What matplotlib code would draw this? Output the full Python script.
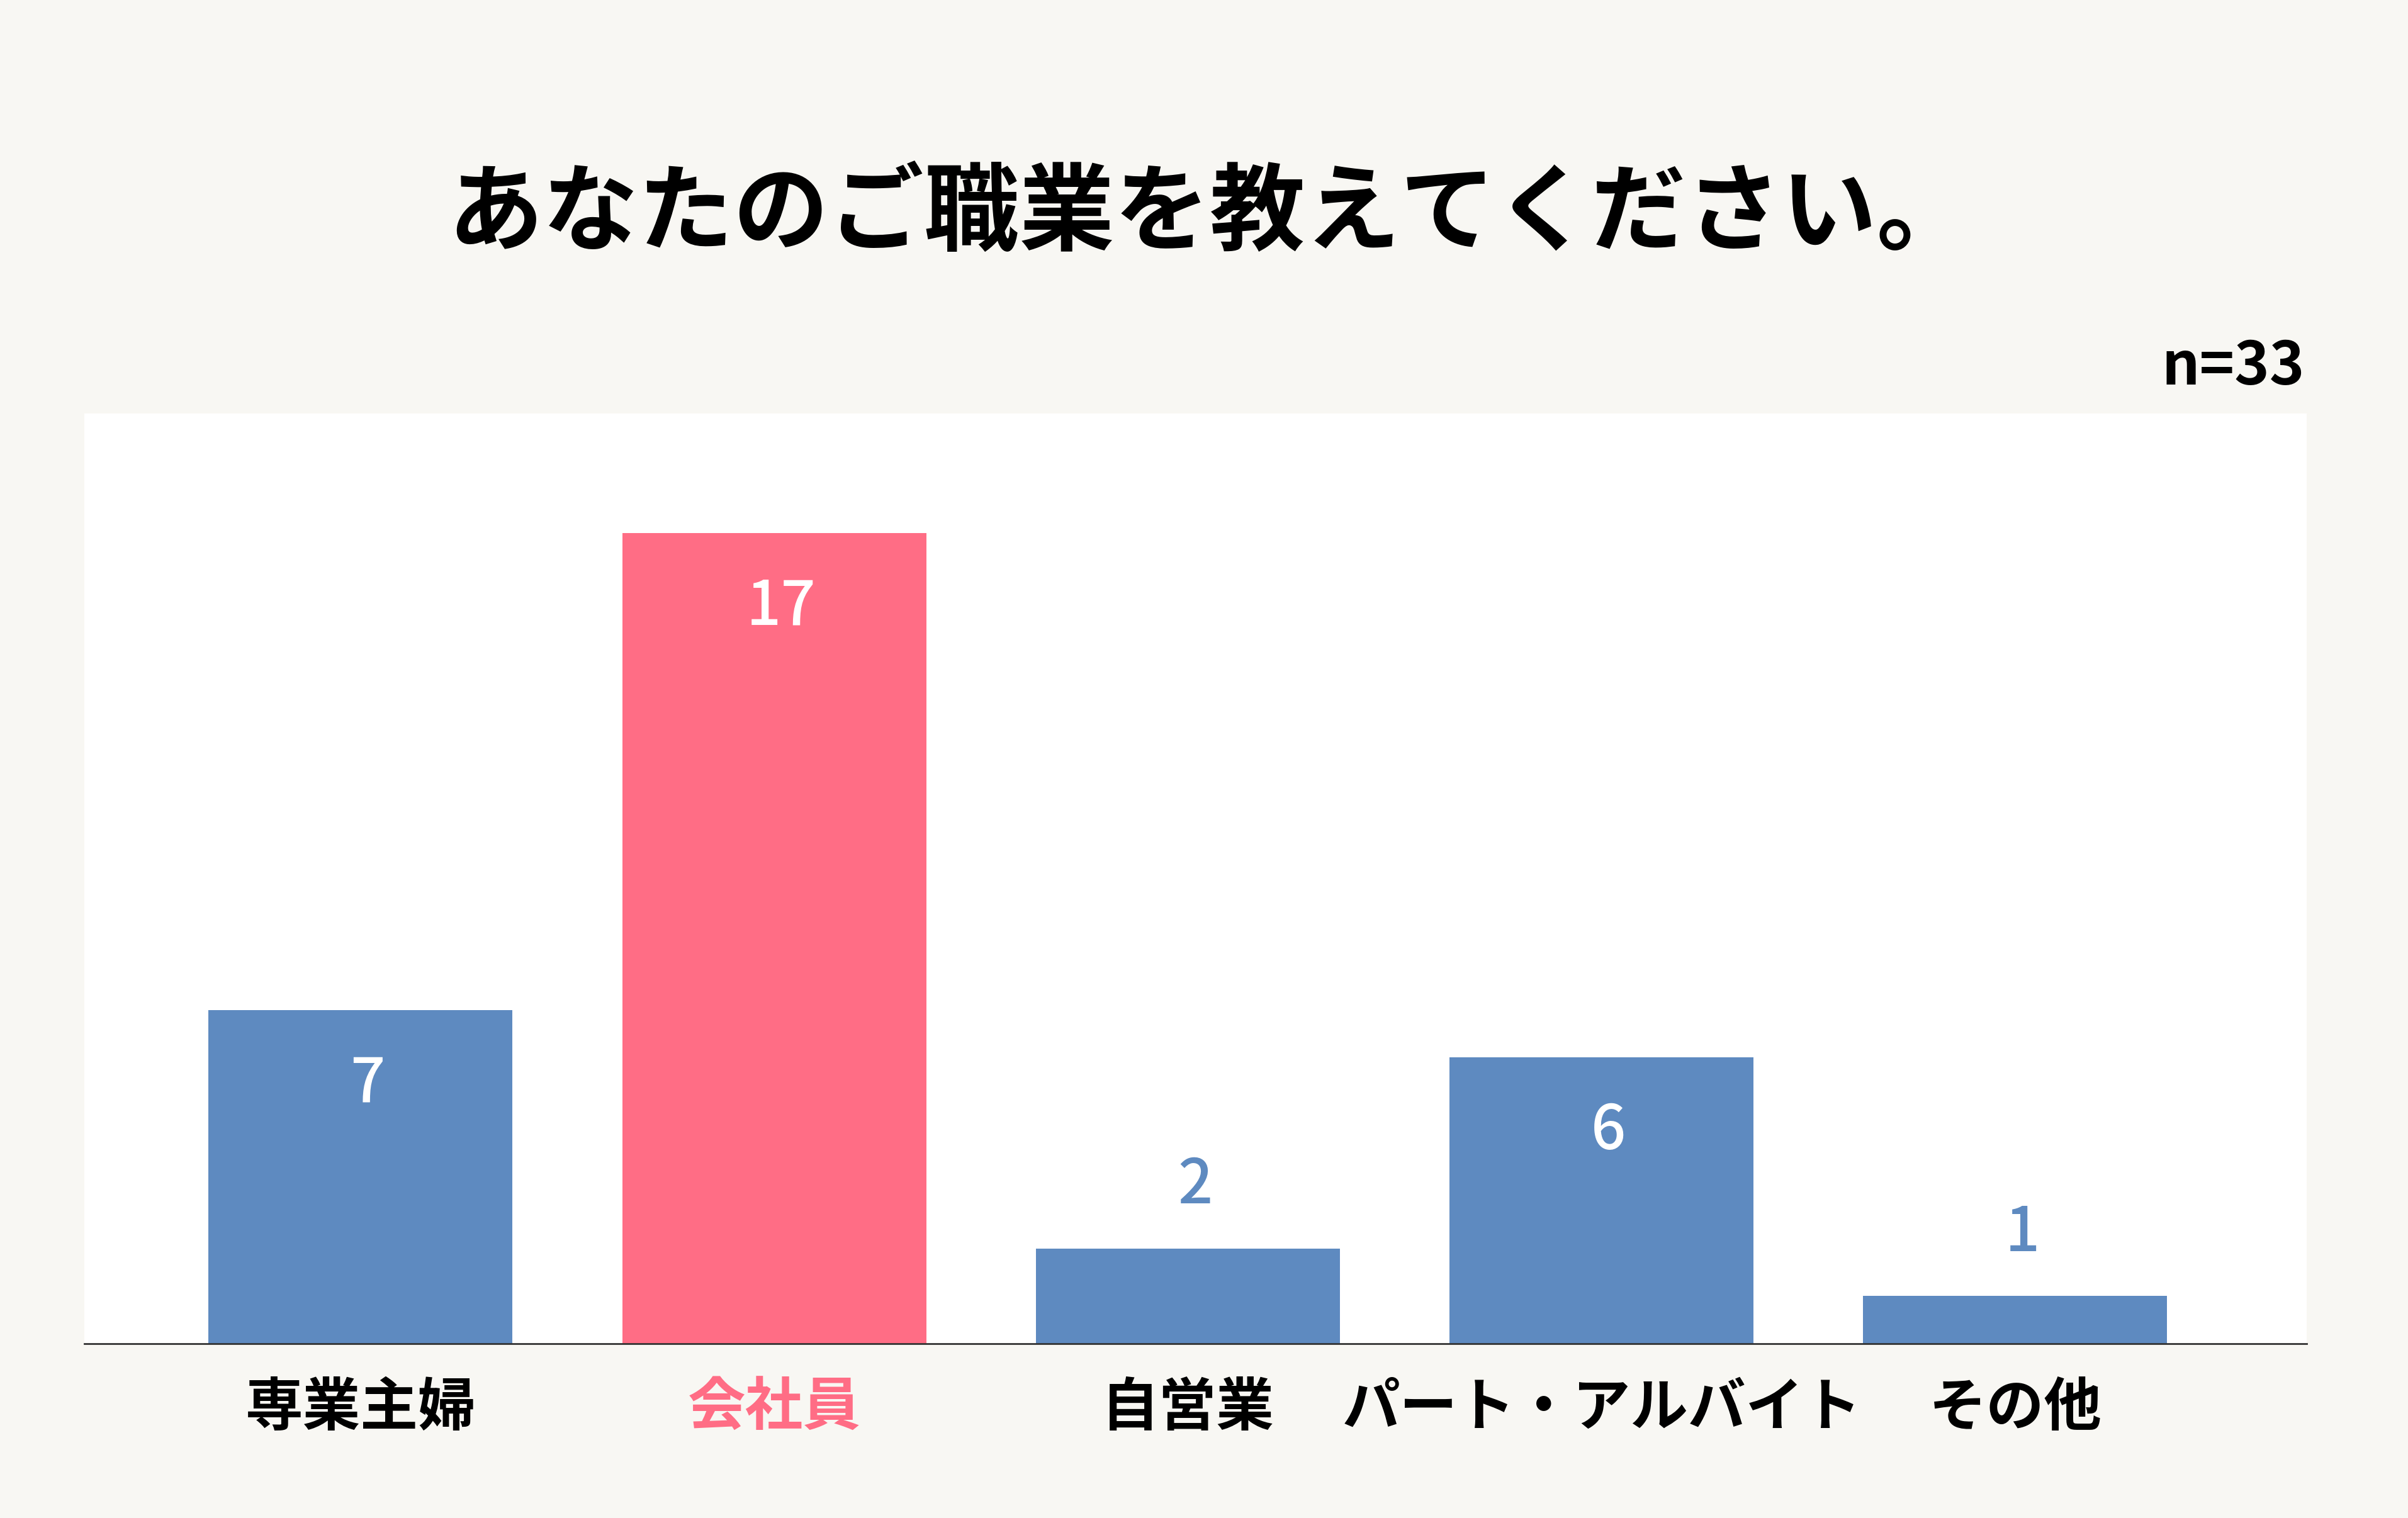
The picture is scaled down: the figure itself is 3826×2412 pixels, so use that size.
import matplotlib.pyplot as plt

plt.rcParams["font.family"] = ["Noto Sans CJK JP", "DejaVu Sans"]

# データ
categories = ["専業主婦", "会社員", "自営業", "パート・アルバイト", "その他"]
counts = [7, 17, 2, 6, 1]
highlight = "会社員"
n_total = 33

BG = "#F8F7F3"
BLUE = "#5E8AC0"
PINK = "#FF6D85"

fig = plt.figure(figsize=(38.26, 24.12), dpi=100, facecolor=BG)
ax = fig.add_axes([0.035, 0.1148, 0.923, 0.6128])
ax.set_facecolor("white")

colors = [PINK if c == highlight else BLUE for c in categories]
x = list(range(len(categories)))
ax.bar(x, counts, width=0.735, color=colors, zorder=2)

ax.set_xlim(-0.668, len(categories) - 1 + 0.705)
ax.set_ylim(0, 19.5)

# 値ラベル: 大きい棒は内側に白、小さい棒は上に青
for xi, v, col in zip(x, counts, colors):
    if v >= 5:
        ax.annotate(str(v), (xi, v), xytext=(8, -85), textcoords="offset points",
                    ha="center", va="center", color="white", fontsize=70, fontweight="medium")
    else:
        ax.annotate(str(v), (xi, v), xytext=(8, 71), textcoords="offset points",
                    ha="center", va="center", color=col, fontsize=70, fontweight="medium")

ax.set_xticks(x)
ax.set_xticklabels(categories, fontsize=66, fontweight="bold")
for lbl, c in zip(ax.get_xticklabels(), categories):
    lbl.set_color(PINK if c == highlight else "black")
ax.tick_params(axis="x", length=0, pad=40)
ax.set_yticks([])

for side in ["top", "left", "right"]:
    ax.spines[side].set_visible(False)
ax.spines["bottom"].set_color("#333333")
ax.spines["bottom"].set_linewidth(2)

fig.text(0.5025, 0.858, "あなたのご職業を教えてください。", ha="center", va="center",
         fontsize=109, fontweight="bold")
fig.text(0.957, 0.758, f"n={n_total}", ha="right", va="center",
         fontsize=68, fontweight="bold")

plt.savefig("out.png", dpi=100, facecolor=BG)
